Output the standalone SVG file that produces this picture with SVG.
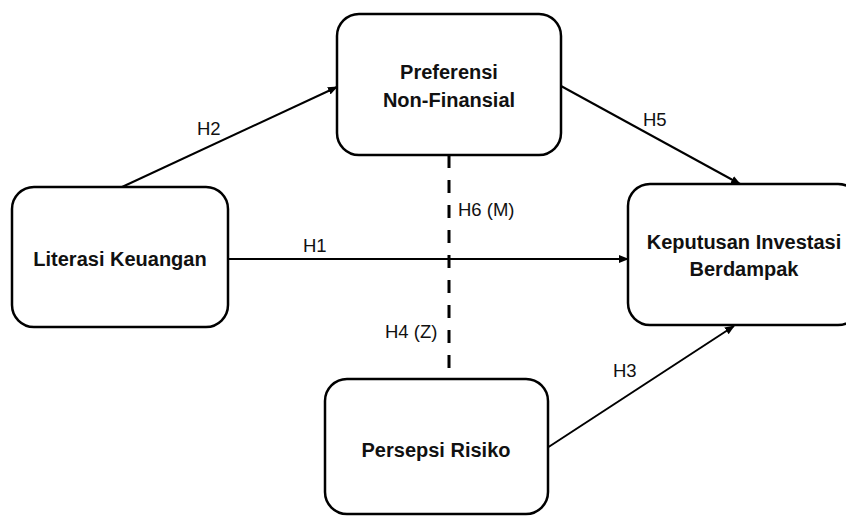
<svg xmlns="http://www.w3.org/2000/svg" width="846" height="516" viewBox="0 0 846 516">
<style>
.box{fill:#fff;stroke:#000;stroke-width:2.5}
.t{font-family:"Liberation Sans",Arial,sans-serif;font-weight:bold;font-size:20px;fill:#111;text-anchor:middle}
.lbl{font-family:"Liberation Sans",Arial,sans-serif;font-size:18.5px;fill:#111}
.ln{stroke:#000;stroke-width:2;fill:none}
.dash{stroke:#000;stroke-width:3;fill:none;stroke-dasharray:13 12}
</style>
<defs>
<marker id="ah" markerUnits="userSpaceOnUse" markerWidth="10" markerHeight="8" refX="9" refY="4" orient="auto">
<path d="M0,0 L10,4 L0,8 Z" fill="#000"/>
</marker>
</defs>
<rect width="846" height="516" fill="#fff"/>
<g id="connectors">
<line class="ln" x1="122" y1="187" x2="337" y2="87" marker-end="url(#ah)"/>
<line class="ln" x1="561" y1="86" x2="740" y2="184" marker-end="url(#ah)"/>
<line class="ln" x1="228" y1="259" x2="628" y2="259" marker-end="url(#ah)"/>
<line class="ln" x1="547" y1="448" x2="734" y2="326" marker-end="url(#ah)"/>
<line class="dash" x1="449" y1="155" x2="449" y2="379"/>
<text class="lbl" x="197" y="135">H2</text>
<text class="lbl" x="643" y="126">H5</text>
<text class="lbl" x="303" y="252">H1</text>
<text class="lbl" x="458" y="216">H6 (M)</text>
<text class="lbl" x="385" y="338">H4 (Z)</text>
<text class="lbl" x="613" y="377">H3</text>
</g>
<g id="node-preferensi">
<rect class="box" x="337" y="14" width="224" height="141" rx="22"/>
<text class="t" x="449" y="79">Preferensi</text>
<text class="t" x="449" y="107">Non-Finansial</text>
</g>
<g id="node-literasi">
<rect class="box" x="12" y="187" width="216" height="140" rx="22"/>
<text class="t" x="120" y="266">Literasi Keuangan</text>
</g>
<g id="node-keputusan">
<rect class="box" x="628" y="184" width="232" height="141" rx="22"/>
<text class="t" x="744" y="249">Keputusan Investasi</text>
<text class="t" x="744" y="276">Berdampak</text>
</g>
<g id="node-persepsi">
<rect class="box" x="325" y="379" width="223" height="135" rx="22"/>
<text class="t" x="436" y="457">Persepsi Risiko</text>
</g>
</svg>
